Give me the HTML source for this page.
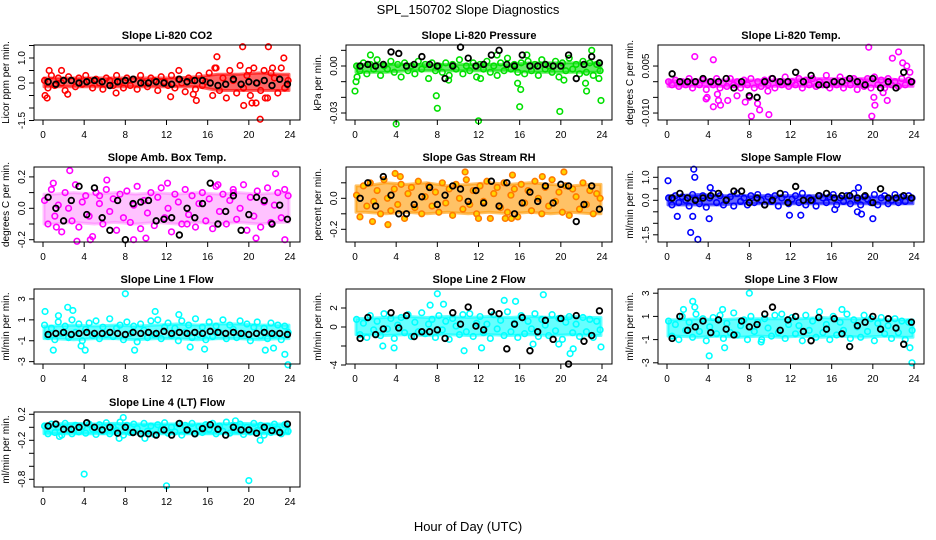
<!DOCTYPE html>
<html><head><meta charset="utf-8"><style>
body{margin:0;background:#fff;}
svg{display:block;font-family:"Liberation Sans",Arial,sans-serif;}
</style></head><body>
<svg id="c" width="936" height="540" viewBox="0 0 936 540">
<rect width="936" height="540" fill="#fff"/>
<text x="468" y="14" text-anchor="middle" font-size="13">SPL_150702  Slope Diagnostics</text>
<text x="468" y="531" text-anchor="middle" font-size="13">Hour of Day (UTC)</text>
</svg>
<script>
// ---- data arrays ----
const xTicks = [0,4,8,12,16,20,24];
const bandHours = [1,3,5,7,9,11,13,15,17,19,21,23];

const co2Lo = [-0.15,-0.15,-0.15,-0.15,-0.15,-0.15,-0.15,-0.15,-0.3,-0.3,-0.3,-0.3];
const co2Hi = [0.2,0.2,0.2,0.2,0.2,0.2,0.2,0.25,0.35,0.35,0.4,0.35];
const co2Vals = [0.1,-0.2,0.3,-0.1,0.2,0.0,-0.3,0.25,0.1,-0.15,0.2,-0.05,0.3,0.1,-0.2,0.15,0.0,-0.25,0.2,0.1,-0.1,0.3,0.05,-0.2,
0.2,-0.1,0.15,-0.25,0.3,0.0,-0.15,0.2,0.1,-0.3,0.25,0.05,-0.1,0.3,-0.2,0.15,0.0,-0.35,0.2,0.1,-0.25,0.3,-0.1,0.05,
0.4,-0.5,0.6,-0.3,0.2,-0.6,0.5,0.1,-0.4,0.7,-0.2,0.3,-0.5,0.6,0.0,-0.3,0.5,-0.6,0.4,0.2,-0.4,0.6,-0.2,0.1];
const co2Out = [[0.2,-0.5],[0.4,-0.6],[0.6,0.5],[1.8,0.5],[2.4,-0.45],[7.1,-0.4],[12.4,-0.55],[13.2,0.5],[14.6,-0.45],[14.9,-0.7],[16.9,1.05],[16.7,0.6],[19.4,1.45],[19.5,-0.9],[20.3,-0.8],[20.7,-0.8],[21.1,-1.45],[21.6,-0.6],[21.9,1.45],[22.3,0.6],[23.4,1.0],[20.0,0.5]];
const co2Black = [0.05,-0.05,0.1,0.1,0.0,0.05,0.1,0.05,-0.1,0.05,0.1,0.15,0.0,0.0,0.05,0.0,-0.05,0.15,0.05,0.1,0.1,0.0,-0.1,-0.05,0.15,-0.05,0.05,0.0,0.1,-0.1,0.15,-0.05];

const presLo = [-0.004,-0.004,-0.003,-0.003,-0.003,-0.003,-0.003,-0.003,-0.004,-0.004,-0.004,-0.004];
const presHi = [0.001,0.001,0.001,0.001,0.001,0.001,0.001,0.001,0.002,0.002,0.002,0.002];
const presVals = [0.000,-0.003,0.002,-0.005,0.001,-0.002,0.004,-0.006,0.000,-0.002,0.003,-0.004,0.001,-0.007,0.002,-0.003,0.000,-0.005,0.003,-0.002,0.001,-0.008,0.002,-0.003,
0.000,-0.004,0.002,-0.006,0.001,-0.002,0.004,-0.005,0.000,-0.003,0.002,-0.007,0.001,-0.002,0.003,-0.004,0.000,-0.006,0.002,-0.003,0.005,-0.002,0.001,-0.004,
0.002,-0.005,0.003,-0.003,0.001,-0.006,0.004,-0.002,0.000,-0.004,0.003,-0.007,0.002,-0.003,0.005,-0.002,0.001,-0.005,0.003,-0.004,0.002,-0.006,0.001,-0.003];
const presOut = [[0,-0.016],[0.1,-0.01],[0.2,-0.007],[4.0,-0.037],[7.9,-0.019],[8.0,-0.027],[9.1,-0.009],[12.0,-0.035],[12.2,-0.008],[15.8,-0.011],[16.0,-0.026],[16.1,-0.015],[19.9,-0.029],[20.3,-0.009],[22.5,-0.016],[22.4,-0.011],[23.0,0.01],[23.7,-0.008],[23.9,-0.022],[1.5,0.007],[13.8,0.007],[16.7,0.007]];
const presBlack = [0.0,0.001,0.0,0.001,0.009,0.008,0.0,0.001,0.006,0.001,0.0,-0.008,0.0,0.012,0.005,0.0,0.001,0.007,0.01,0.001,0.0,0.007,0.0,0.0,0.001,0.0,0.0,0.007,-0.008,0.001,0.006,0.002];

const tempLo = [-0.0015,-0.0015,-0.0015,-0.0015,-0.0015,-0.0015,-0.0015,-0.0015,-0.0015,-0.0015,-0.0015,-0.0015];
const tempHi = [0.0005,0.0005,0.0005,0.0005,0.0005,0.0005,0.001,0.001,0.001,0.001,0.001,0.0005];
const tempVals = [0,-0.001,0.0005,-0.0015,0,-0.001,0.001,-0.002,0,-0.001,0.0005,-0.0025,0,-0.001,0.001,-0.002,-0.0005,-0.0015,0.001,-0.001,0,-0.002,0.0005,-0.001,
0.001,-0.002,0,-0.0015,0.0005,-0.001,0.001,-0.002,0,-0.001,0.0015,-0.0015,0,-0.001,0.001,-0.002,0.0005,-0.001,0.001,-0.0015,0,-0.001,0.002,-0.002,
0,-0.001,0.0015,-0.002,0.0005,-0.001,0.001,-0.0025,0,-0.0015,0.001,-0.002,0.0015,-0.001,0.0005,-0.002,0.001,-0.001,0,-0.0015,0.001,-0.001,0.0005,0];
const tempOut = [[2.7,0.008],[3.9,-0.005],[3.8,-0.0055],[4.5,0.007],[4.5,-0.008],[5.0,-0.006],[5.2,-0.0075],[5.9,-0.006],[6.8,-0.0045],[7.6,-0.0065],[8.2,-0.011],[8.0,-0.005],[8.8,-0.007],[9.0,-0.009],[9.9,-0.0105],[9.8,-0.003],[19.6,0.011],[19.9,-0.011],[20.2,-0.0075],[20.1,-0.005],[21.0,-0.0035],[21.4,-0.006],[21.9,0.0075],[22.5,0.0095],[22.9,0.006],[23.3,0.005],[23.6,0.003],[4.9,-0.004]];
const tempBlack = [0.0025,0,0,0,0.001,0,0,0.001,-0.002,0,-0.0045,-0.005,0,0.001,0,0,0.003,0,0.002,-0.001,-0.001,0,0,0.001,0,-0.001,0.001,-0.002,0,-0.002,0.003,0];

const ambLo = [-0.1,-0.09,-0.1,-0.09,-0.1,-0.09,-0.1,-0.09,-0.1,-0.09,-0.1,-0.09];
const ambHi = [0.09,0.1,0.09,0.1,0.09,0.1,0.09,0.1,0.09,0.1,0.09,0.1];
const ambVals = [0.05,-0.1,0.12,-0.05,0.02,-0.15,0.1,0.0,-0.08,0.15,-0.12,0.04,0.08,-0.05,-0.18,0.1,0.03,-0.1,0.12,-0.02,0.06,-0.14,0.09,-0.06,
0.11,-0.09,0.02,0.14,-0.13,0.05,-0.03,0.1,-0.11,0.07,0.13,-0.06,0.0,-0.15,0.09,0.04,-0.1,0.12,-0.04,0.08,-0.12,0.03,0.1,-0.08,
0.06,-0.13,0.14,-0.02,0.09,-0.1,0.05,0.12,-0.07,0.0,0.15,-0.14,0.07,-0.05,0.11,-0.12,0.04,0.13,-0.09,0.02,0.1,-0.06,0.12,0.08];
const ambOut = [[2.6,0.24],[3.3,-0.21],[4.6,-0.2],[1.0,0.16],[8.8,-0.2],[10.0,-0.19],[12.1,0.16],[22.6,0.22],[23.5,-0.2],[20.7,-0.19],[6.2,0.18],[17.0,0.15],[1.3,-0.12],[5.5,0.08],[14.0,-0.1],[18.5,0.1]];
const ambBlack = [0.07,0.0,-0.08,0.05,0.14,-0.04,0.13,-0.06,-0.14,0.05,-0.2,0.03,0.04,0.05,-0.08,-0.07,-0.06,-0.17,0.0,-0.06,0.03,0.16,-0.1,-0.02,0.08,-0.14,-0.04,0.07,0.05,-0.1,0.02,-0.07];

const rhLo = [-0.09,-0.1,-0.09,-0.1,-0.09,-0.1,-0.09,-0.1,-0.09,-0.1,-0.09,-0.1];
const rhHi = [0.08,0.1,0.09,0.1,0.08,0.09,0.1,0.09,0.1,0.09,0.08,0.09];
const rhVals = [0.02,-0.12,0.08,-0.05,0.1,-0.02,0.05,-0.1,0.12,0.0,-0.08,0.06,-0.04,0.09,-0.13,0.03,0.07,-0.06,0.11,-0.1,0.01,0.08,-0.05,0.04,
-0.09,0.1,-0.03,0.06,-0.11,0.09,0.0,-0.07,0.12,-0.04,0.05,-0.1,0.08,-0.02,0.11,-0.13,0.03,0.07,-0.06,0.1,-0.09,0.02,0.06,-0.12,
0.09,-0.03,0.05,-0.08,0.11,0.0,-0.1,0.07,-0.05,0.12,-0.02,0.04,-0.09,0.08,-0.11,0.06,0.01,-0.07,0.1,-0.04,0.05,-0.1,0.03,0.0];
const rhOut = [[3.9,0.16],[4.4,0.14],[10.7,0.17],[20.3,0.17],[15.3,0.15],[18.2,0.14],[1.7,-0.15],[3.2,-0.17],[14.6,-0.13],[15.2,-0.13],[12.0,-0.13]];
const rhBlack = [0.0,0.1,-0.05,0.14,0.02,-0.1,-0.1,-0.04,0.01,0.07,-0.04,0.02,0.08,0.06,-0.02,0.05,-0.03,0.11,-0.05,0.1,-0.1,-0.03,0.04,-0.02,0.08,-0.03,0.09,0.08,-0.15,-0.04,0.08,-0.07];

const flowLo = [-0.2,-0.2,-0.2,-0.15,-0.15,-0.15,-0.15,-0.15,-0.15,-0.15,-0.15,-0.15];
const flowHi = [0.2,0.25,0.2,0.2,0.2,0.2,0.2,0.2,0.15,0.15,0.15,0.15];
const flowVals = [0.1,-0.2,0.2,-0.1,0.15,0.0,-0.25,0.25,0.05,-0.15,0.2,-0.3,0.1,0.3,-0.1,0.2,-0.2,0.05,0.15,-0.25,0.3,-0.05,0.1,-0.2,
0.2,-0.1,0.25,0.0,-0.2,0.15,-0.05,0.2,-0.25,0.1,0.25,-0.15,0.05,0.2,-0.1,0.3,-0.2,0.1,0.0,-0.25,0.2,0.1,-0.1,0.15,
0.25,-0.2,0.1,-0.05,0.2,-0.15,0.3,0.0,-0.2,0.15,0.05,-0.1,0.25,-0.2,0.1,0.2,-0.15,0.0,0.25,-0.1,0.15,-0.05,0.2,0.1];
const flowOut = [[0.1,0.85],[1.0,-0.7],[2.3,-1.4],[2.5,-0.7],[2.6,1.35],[2.7,1.0],[3.0,-1.7],[4.1,-0.8],[4.2,0.55],[11.9,-0.65],[13.0,-0.65],[18.6,0.55],[18.5,-0.5],[18.9,-0.6],[20.0,-0.8],[16.3,-0.4]];
const flowBlack = [0.1,0.3,0.1,0.0,0.1,0.2,0.3,0.0,0.4,0.4,-0.1,0.1,-0.2,0.0,0.3,-0.1,0.6,0.0,0.0,0.2,0.3,0.1,0.2,0.2,0.1,0.2,-0.1,0.5,0.1,0.1,0.2,0.1];

const l1Lo = [-0.8,-0.9,-0.8,-0.8,-0.9,-0.8,-0.8,-0.9,-0.8,-0.8,-0.9,-0.8];
const l1Hi = [0.4,0.5,0.4,0.5,0.4,0.5,0.6,0.5,0.6,0.6,0.5,0.5];
const l1Vals = [0.5,-0.6,0.2,-0.9,0.8,-0.3,0.4,-0.7,1.0,-0.2,0.6,-1.0,0.1,0.7,-0.5,0.9,-0.8,0.3,-0.4,1.1,-0.6,0.2,0.5,-0.9,
0.8,-0.3,0.4,-1.1,0.6,0.0,-0.7,0.9,-0.4,1.0,-0.8,0.3,0.7,-0.5,0.2,-1.0,0.9,-0.2,0.5,-0.7,1.1,-0.4,0.3,-0.9,
0.8,-0.6,0.4,-0.2,1.0,-0.8,0.5,0.1,-0.7,0.9,-0.3,0.6,-1.0,0.3,0.8,-0.5,0.2,-0.8,0.7,-0.4,0.5,-0.9,0.4,-0.2];
const l1Out = [[0.2,1.8],[1.0,-1.9],[1.5,1.4],[2.4,2.2],[2.9,1.9],[3.7,-1.5],[4.1,-1.9],[8.0,3.5],[8.9,-1.9],[10.9,1.8],[14.3,-1.6],[15.7,-1.8],[21.6,-1.9],[22.4,-1.7],[23.5,-2.3],[23.8,-3.3],[13.2,1.5]];
const l1Black = [-0.4,-0.3,-0.2,-0.4,-0.3,-0.2,-0.3,-0.3,-0.2,-0.3,-0.4,-0.2,-0.3,-0.2,-0.3,-0.1,-0.3,-0.2,-0.3,-0.2,-0.3,-0.1,-0.2,-0.3,-0.2,-0.3,-0.4,-0.3,-0.2,-0.3,-0.3,-0.4];

const l2Lo = [-0.8,-0.9,-0.8,-0.9,-0.8,-0.9,-0.8,-0.9,-0.8,-0.9,-0.8,-0.9];
const l2Hi = [0.9,1.0,1.1,1.0,1.1,1.0,1.1,1.0,1.1,1.0,1.1,1.0];
const l2Vals = [0.8,-0.8,0.4,-1.1,1.2,-0.3,0.6,-0.9,1.4,-0.2,0.9,-1.2,0.2,1.0,-0.6,1.3,-1.0,0.5,-0.5,1.5,-0.7,0.3,0.8,-1.1,
1.2,-0.3,0.6,-1.3,0.9,0.1,-0.8,1.3,-0.5,1.4,-1.0,0.4,1.1,-0.6,0.3,-1.2,1.3,-0.2,0.7,-0.9,1.6,-0.5,0.4,-1.1,
1.2,-0.7,0.6,-0.2,1.4,-1.0,0.8,0.2,-0.9,1.3,-0.4,0.9,-1.3,0.5,1.1,-0.6,0.3,-1.0,1.0,-0.5,0.8,-1.1,0.6,-0.3];
const l2Out = [[8.0,3.5],[8.6,2.4],[7.3,2.3],[14.5,2.8],[15.6,2.7],[18.3,3.4],[10.6,-2.5],[12.3,-2.2],[20.9,-2.8],[21.2,-2.3],[23.9,-2.1],[3.8,-2.2],[2.7,-2.0],[17.3,-1.8],[19.8,-1.8]];
const l2Black = [-1.2,1.0,-0.8,-0.2,1.5,-0.1,1.2,-1.0,-0.5,-0.5,-0.3,-1.2,1.5,0.3,2.1,0.1,-0.3,1.6,1.4,-2.3,0.3,1.0,-2.5,-0.5,0.7,-1.3,0.9,-3.9,1.2,-1.5,-0.9,1.7];

const l3Lo = [-0.7,-0.8,-0.7,-0.8,-0.7,-0.8,-0.7,-0.8,-0.7,-0.8,-0.7,-0.8];
const l3Hi = [0.7,0.8,0.7,0.8,0.8,0.8,0.8,0.9,0.8,0.8,0.7,0.7];
const l3Vals = [0.6,-0.7,0.3,-1.0,1.0,-0.2,0.5,-0.8,1.2,-0.3,0.8,-1.1,0.1,0.9,-0.5,1.1,-0.9,0.4,-0.4,1.3,-0.6,0.2,0.7,-1.0,
1.0,-0.3,0.5,-1.2,0.8,0.0,-0.7,1.1,-0.4,1.2,-0.9,0.3,0.9,-0.5,0.2,-1.1,1.1,-0.2,0.6,-0.8,1.4,-0.4,0.3,-1.0,
1.0,-0.6,0.5,-0.2,1.2,-0.9,0.7,0.1,-0.8,1.1,-0.3,0.8,-1.1,0.4,0.9,-0.5,0.2,-0.9,0.8,-0.4,0.6,-1.0,0.5,-0.2];
const l3Out = [[2.5,2.3],[2.7,1.8],[1.6,1.6],[4.1,-2.4],[5.4,1.6],[8.0,3.0],[5.6,-1.7],[9.2,-1.0],[23.8,-3.0],[23.6,-1.7],[17.0,1.6]];
const l3Black = [-0.9,1.0,-0.2,0.1,0.6,-0.4,0.7,-0.1,-0.6,0.6,0.1,0.3,1.2,1.8,-0.2,0.7,1.0,-0.3,-1.1,0.9,-0.1,0.8,-0.5,-1.6,0.2,0.5,1.0,-0.1,0.8,0.0,-1.4,0.5];

const l4Lo = [-0.1,-0.1,-0.1,-0.1,-0.1,-0.1,-0.1,-0.1,-0.1,-0.1,-0.1,-0.1];
const l4Hi = [0.05,0.06,0.05,0.06,0.05,0.05,0.05,0.05,0.05,0.06,0.05,0.05];
const l4Vals = [0.02,-0.1,0.05,-0.08,0.0,-0.12,0.06,-0.04,-0.1,0.03,-0.07,0.01,-0.09,0.05,-0.03,-0.11,0.04,-0.06,0.07,-0.1,0.0,-0.05,0.08,-0.12,
0.03,-0.08,0.05,-0.02,-0.1,0.06,-0.06,0.02,-0.11,0.04,-0.04,0.07,-0.09,0.0,-0.07,0.05,-0.12,0.03,-0.05,0.06,-0.1,0.01,-0.08,0.04,
-0.03,0.06,-0.1,0.02,-0.06,0.08,-0.09,0.03,-0.04,0.05,-0.11,0.0,-0.07,0.06,-0.05,0.03,-0.12,0.02,-0.08,0.05,-0.03,-0.1,0.04,-0.06];
const l4Out = [[4.0,-0.72],[12.0,-0.9],[20.0,-0.82],[1.6,-0.14],[7.4,-0.17],[21.1,-0.2],[7.8,0.15],[18.7,0.1],[9.9,-0.17]];
const l4Black = [0.02,0.05,-0.03,-0.03,0.0,0.07,0.0,-0.04,0.0,-0.09,0.0,-0.08,-0.1,-0.1,-0.12,-0.04,-0.12,0.06,-0.04,-0.1,-0.02,0.04,-0.03,-0.12,0.0,-0.04,-0.04,-0.09,0.0,-0.05,-0.08,0.05];

// ---- panel config ----
const NS = 'http://www.w3.org/2000/svg';
const svg = document.getElementById('c');
const colLeft = [34, 346, 658], rowTop = [45, 167, 289, 412];
const BW = 266, BH = 75;
const panels = [
 {c:0,r:0,name:'co2',title:'Slope Li-820 CO2',ylab:'Licor ppm per min.',y0:83,k:25,ticks:[-1.5,-1,-0.5,0,0.5,1,1.5],labs:{'-1.5':'-1.5','0':'0.0','1':'1.0'},col:'#ff0000',fill:'none',band:'#ff0000',op:0.6,lo:co2Lo,hi:co2Hi,vals:co2Vals,out:co2Out,blk:co2Black},
 {c:1,r:0,name:'pressure',title:'Slope Li-820 Pressure',ylab:'kPa per min.',y0:66,k:1567,ticks:[-0.03,-0.02,-0.01,0,0.01],labs:{'-0.03':'-0.03','0':'0.00'},col:'#00e000',fill:'none',band:'#00e000',op:0.6,lo:presLo,hi:presHi,vals:presVals,out:presOut,blk:presBlack},
 {c:2,r:0,name:'temp',title:'Slope Li-820 Temp.',ylab:'degrees C per min.',y0:81.7,k:3133,ticks:[-0.01,-0.005,0,0.005],labs:{'-0.01':'-0.010','0.005':'0.005'},col:'#ff00ff',fill:'none',band:'#ff00ff',op:0.6,lo:tempLo,hi:tempHi,vals:tempVals,out:tempOut,blk:tempBlack},
 {c:0,r:1,name:'amb-temp',title:'Slope Amb. Box Temp.',ylab:'degrees C per min.',y0:208.3,k:157,ticks:[-0.2,-0.1,0,0.1,0.2],labs:{'-0.2':'-0.2','0':'0.0','0.2':'0.2'},col:'#ff00ff',fill:'none',band:'#ff66ff',op:0.4,lo:ambLo,hi:ambHi,vals:ambVals,out:ambOut,blk:ambBlack},
 {c:1,r:1,name:'rh',title:'Slope Gas Stream RH',ylab:'percent per min.',y0:198.3,k:155,ticks:[-0.2,-0.1,0,0.1],labs:{'-0.2':'-0.2','0':'0.0'},col:'#ff7a00',fill:'#ffd400',band:'#ff9a00',op:0.6,lo:rhLo,hi:rhHi,vals:rhVals,out:rhOut,blk:rhBlack},
 {c:2,r:1,name:'sample-flow',title:'Slope Sample Flow',ylab:'ml/min per min.',y0:200.3,k:23,ticks:[-1.5,-1,-0.5,0,0.5,1],labs:{'-1.5':'-1.5','0':'0.0','1':'1.0'},col:'#0000ff',fill:'none',band:'#0000ff',op:0.6,lo:flowLo,hi:flowHi,vals:flowVals,out:flowOut,blk:flowBlack},
 {c:0,r:2,name:'line1',title:'Slope Line 1 Flow',ylab:'ml/min per min.',y0:330.3,k:10.45,ticks:[-3,-1,1,3],labs:{'-3':'-3','-1':'-1','1':'1','3':'3'},col:'#00ffff',fill:'none',band:'#00ffff',op:0.6,lo:l1Lo,hi:l1Hi,vals:l1Vals,out:l1Out,blk:l1Black},
 {c:1,r:2,name:'line2',title:'Slope Line 2 Flow',ylab:'ml/min per min.',y0:327,k:9.5,ticks:[-4,-2,0,2],labs:{'-4':'-4','0':'0','2':'2'},col:'#00ffff',fill:'none',band:'#00ffff',op:0.6,lo:l2Lo,hi:l2Hi,vals:l2Vals,out:l2Out,blk:l2Black},
 {c:2,r:2,name:'line3',title:'Slope Line 3 Flow',ylab:'ml/min per min.',y0:328,k:11.6,ticks:[-3,-1,1,3],labs:{'-3':'-3','-1':'-1','1':'1','3':'3'},col:'#00ffff',fill:'none',band:'#00ffff',op:0.6,lo:l3Lo,hi:l3Hi,vals:l3Vals,out:l3Out,blk:l3Black},
 {c:0,r:3,name:'line4',title:'Slope Line 4 (LT) Flow',ylab:'ml/min per min.',y0:427.3,k:65,ticks:[-0.8,-0.6,-0.4,-0.2,0,0.2],labs:{'-0.8':'-0.8','-0.2':'-0.2','0.2':'0.2'},col:'#00ffff',fill:'none',band:'#00ffff',op:0.7,lo:l4Lo,hi:l4Hi,vals:l4Vals,out:l4Out,blk:l4Black}
];

function mk(tag, attrs, parent){
  const e = document.createElementNS(NS, tag);
  for (const a in attrs) e.setAttribute(a, attrs[a]);
  (parent||svg).appendChild(e);
  return e;
}

panels.forEach(p => {
  const L = colLeft[p.c], T = rowTop[p.r];
  const x0 = L + 9, kx = 247/24;
  const X = h => x0 + h*kx;
  const Y = v => p.y0 - p.k*v;
  const g = mk('g', {});
  
  
  const ti = mk('text', {x: L+BW/2, y: T-6, 'text-anchor':'middle', 'font-size':11, 'font-weight':'bold'}, g);
  ti.textContent = p.title;
  
  
  const top = bandHours.map((h,i) => `${X(h)},${Y(p.hi[i])}`);
  const bot = bandHours.map((h,i) => `${X(h)},${Y(p.lo[i])}`).reverse();
  const startX = X(0.1), endX = X(23.9);
  const pts = [`${startX},${Y(p.hi[0])}`, ...top, `${endX},${Y(p.hi[p.hi.length-1])}`, `${endX},${Y(p.lo[p.lo.length-1])}`, ...bot, `${startX},${Y(p.lo[0])}`].join(' ');
  const band = mk('polygon', {points: pts, fill: p.band, 'fill-opacity': p.op, stroke: p.band, 'stroke-opacity': p.op, 'stroke-width': 3, 'stroke-linejoin':'round'}, g);
  
  
  const cg = mk('g', {fill: p.fill, stroke: p.col, 'stroke-width':1.6}, g);
  
  
  p.vals.forEach((v,i) => {
    const c = mk('circle', {cx: X(0.15 + i/3), cy: Y(v), r: 2.8}, cg);
    
    
  });
  p.out.forEach(d => {
    const c = mk('circle', {cx: X(d[0]), cy: Y(d[1]), r: 2.8}, cg);
    
    
  });
  const bg = mk('g', {fill:'none', stroke:'#000', 'stroke-width':1.8}, g);
  
  
  p.blk.forEach((v,i) => {
    const c = mk('circle', {cx: X(0.5 + i*0.75), cy: Y(v), r: 2.8}, bg);
    
    
  });
  const box = mk('rect', {x: L, y: T, width: BW, height: BH, fill:'none', stroke:'#000', 'stroke-width':1}, g);
  
  
  xTicks.forEach(h => {
    mk('line', {x1: X(h), x2: X(h), y1: T+BH, y2: T+BH+5, stroke:'#000'}, g);
    const t = mk('text', {x: X(h), y: T+BH+18, 'text-anchor':'middle', 'font-size':10}, g);
    t.textContent = h;
    
    
  });
  p.ticks.forEach(v => {
    mk('line', {x1: L-5, x2: L, y1: Y(v), y2: Y(v), stroke:'#000'}, g);
    const lab = p.labs[String(v)];
    if (lab !== undefined) {
      const t = mk('text', {x: L-9, y: Y(v), 'text-anchor':'middle', 'font-size':10, transform:`rotate(-90 ${L-9} ${Y(v)})`}, g);
      t.textContent = lab;
      
      
    }
  });
  const yl = mk('text', {x: L-25, y: T+BH/2, 'text-anchor':'middle', 'font-size':10, transform:`rotate(-90 ${L-25} ${T+BH/2})`}, g);
  yl.textContent = p.ylab;
  
  
});
</script>
</body></html>
